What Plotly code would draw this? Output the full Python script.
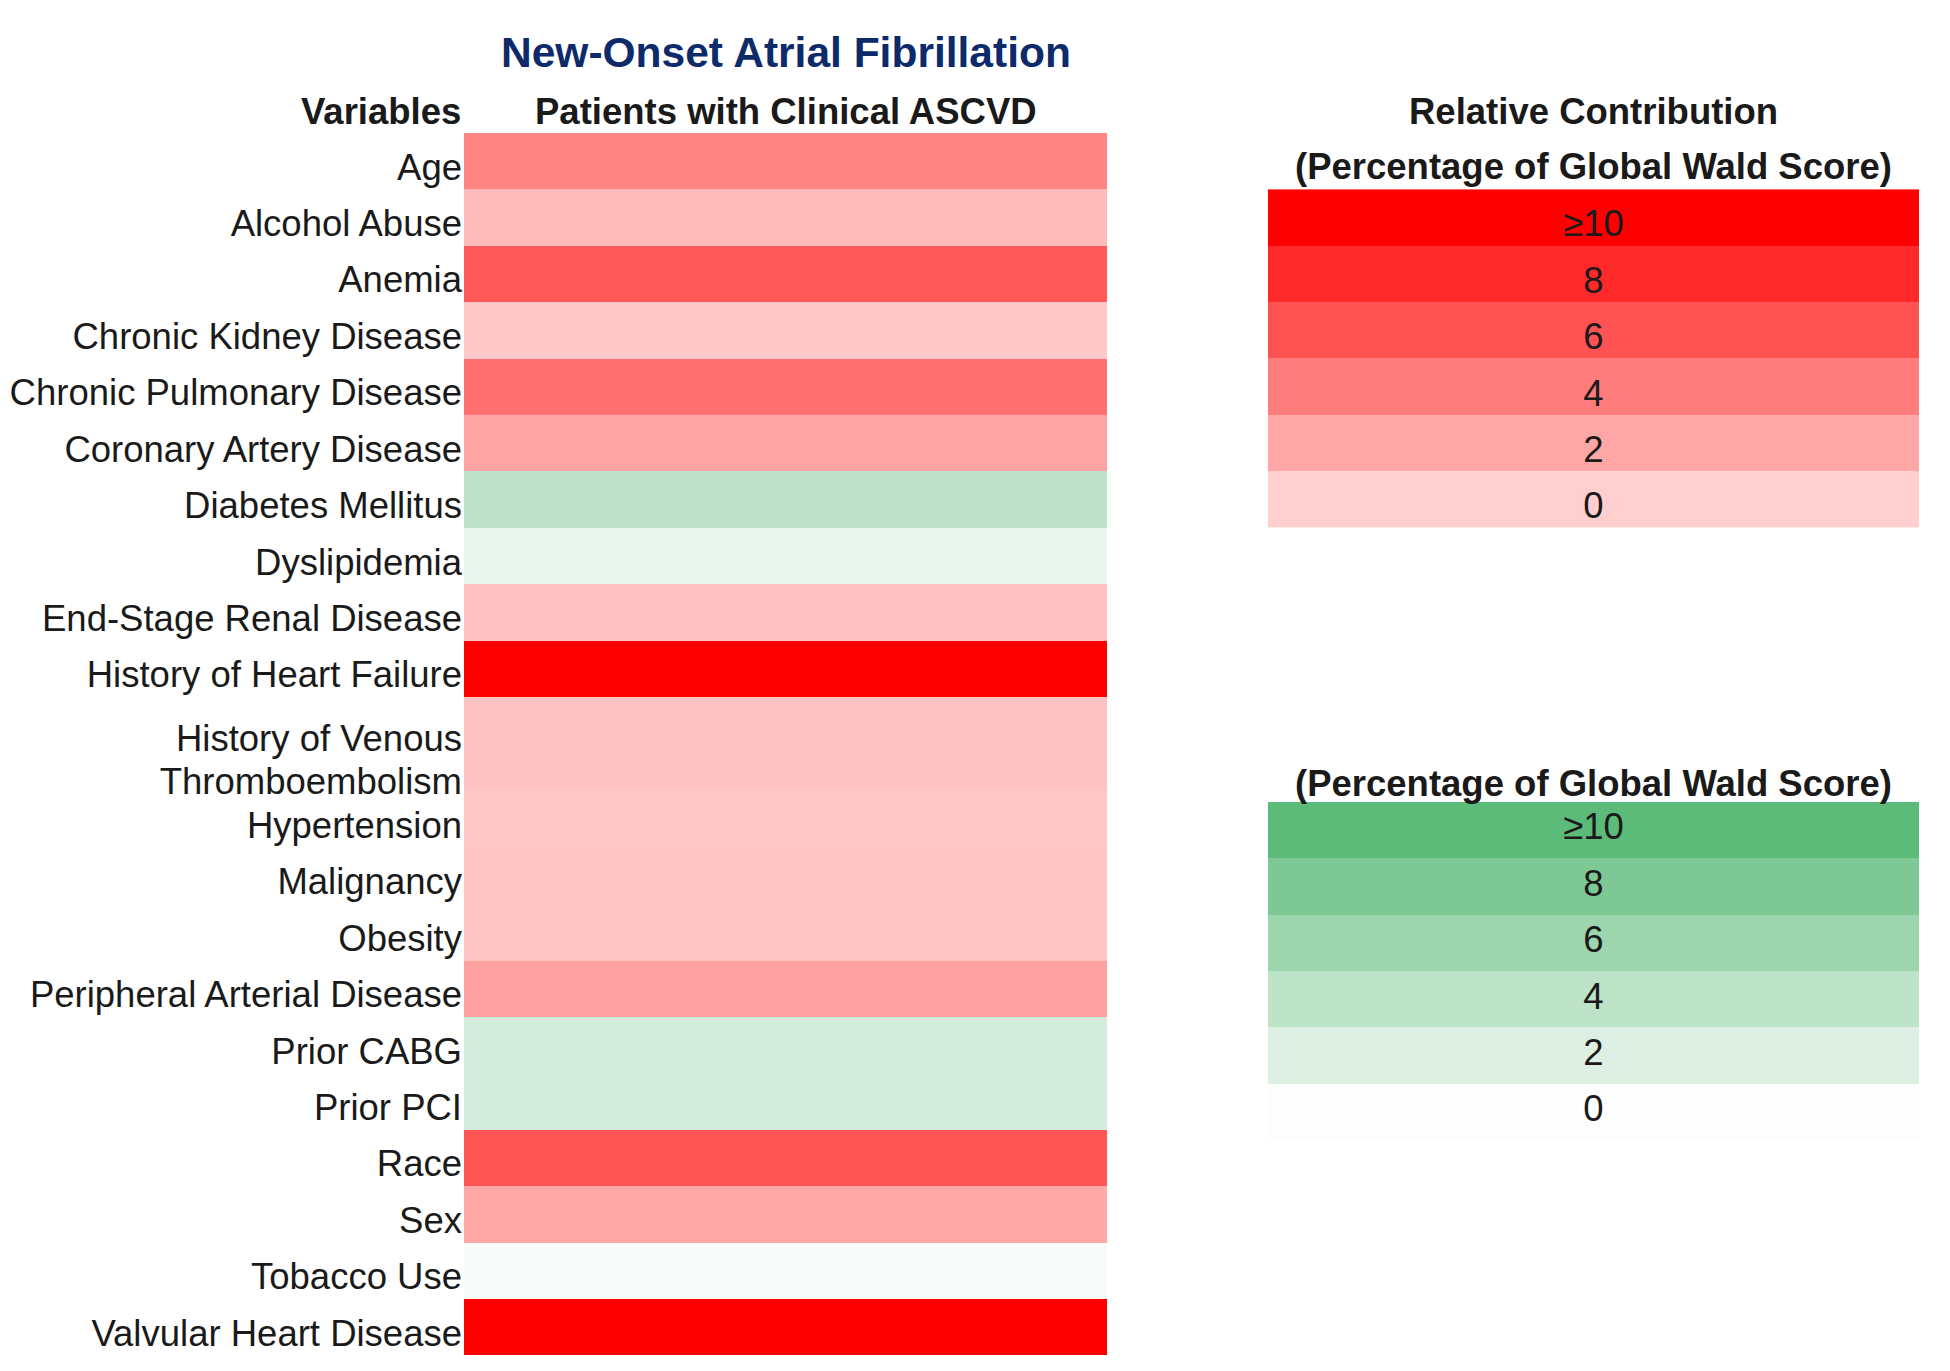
import plotly.graph_objects as go

# ---------------- data ----------------
variables = [
    "Age", "Alcohol Abuse", "Anemia", "Chronic Kidney Disease",
    "Chronic Pulmonary Disease", "Coronary Artery Disease", "Diabetes Mellitus",
    "Dyslipidemia", "End-Stage Renal Disease", "History of Heart Failure",
    "History of Venous<br>Thromboembolism", "Hypertension", "Malignancy", "Obesity",
    "Peripheral Arterial Disease", "Prior CABG", "Prior PCI", "Race", "Sex",
    "Tobacco Use", "Valvular Heart Disease",
]
# relative contribution (% of global Wald score); positive = red, negative = green
contribution = [3.6, 1.0, 5.7, 0.3, 4.6, 2.1, -3.9, -1.2, 0.7, 10.0,
                0.6, 0.3, 0.5, 0.5, 2.2, -2.6, -2.6, 5.9, 1.9, -0.4, 10.0]
# relative row heights (the two-line label row is taller)
row_heights = [1, 1, 1, 1, 1, 1, 1, 1, 1, 1, 1.67, 1, 1, 1, 1, 1, 1, 1, 1, 1, 1]

legend_levels = [10, 8, 6, 4, 2, 0]
legend_text = ["≥10", "8", "6", "4", "2", "0"]

RED0, RED10 = "#FFCFCF", "#FF0000"
GREEN0, GREEN10 = "#FDFDFD", "#5DBB7A"

# ---------------- geometry ----------------
edges = [0.0]
for h in row_heights:
    edges.append(edges[-1] + h)

LABEL_DROP = 0.1     # text sits slightly below the row centre
LINE_STEP = 0.75     # line spacing for wrapped labels (in rows)
tickvals, ticktext = [], []
for i, name in enumerate(variables):
    lines = name.split("<br>")
    centre = edges[i + 1] - 0.5 + LABEL_DROP if len(lines) == 1 else edges[i + 1] - 0.56
    first = centre - LINE_STEP * (len(lines) - 1) / 2
    for k, ln in enumerate(lines):
        tickvals.append(first + k * LINE_STEP)
        ticktext.append(ln)

OFF = 8                      # page body margin
WIN_W, WIN_H = 1950, 1371
W, H = WIN_W - OFF, WIN_H - OFF
FONT = "Liberation Sans, Arial, sans-serif"
TXT = "#1a1a1a"
FS = 36.5


def px_x(p):
    return (p - OFF) / W


top_px, row_px = 133, 56.41
y_range = [(WIN_H - top_px) / row_px, (OFF - top_px) / row_px]

fig = go.Figure()

# main heatmap
fig.add_trace(go.Heatmap(
    z=[[v] for v in contribution], x=[0, 1], y=edges,
    zmin=-10, zmax=10,
    colorscale=[[0, GREEN10], [0.4999, GREEN0], [0.5, RED0], [1, RED10]],
    showscale=False, hoverinfo="skip", xaxis="x", yaxis="y",
))


def legend_traces(top, scale, drop):
    ys = [top + k for k in range(len(legend_levels) + 1)]
    hm = go.Heatmap(
        z=[[v] for v in legend_levels], x=[0, 1], y=ys,
        zmin=0, zmax=10, colorscale=scale, showscale=False,
        hoverinfo="skip", xaxis="x2", yaxis="y",
    )
    txt = go.Scatter(
        x=[0.5] * len(legend_levels), y=[y + 0.5 + drop for y in ys[:-1]],
        mode="text", text=legend_text, textposition="middle center",
        textfont=dict(family=FONT, size=FS, color=TXT),
        hoverinfo="skip", showlegend=False, xaxis="x2", yaxis="y",
    )
    return [hm, txt]


red_top = edges[1]
green_top = edges[11] + 0.19
for t in legend_traces(red_top, [[0, RED0], [1, RED10]], 0.17):
    fig.add_trace(t)
for t in legend_traces(green_top, [[0, GREEN0], [1, GREEN10]], 0.0):
    fig.add_trace(t)

x1 = [px_x(464), px_x(1107)]
x2 = [px_x(1268), px_x(1919)]

fig.update_layout(
    width=W, height=H,
    margin=dict(l=0, r=0, t=0, b=0),
    paper_bgcolor="white", plot_bgcolor="white",
    font=dict(family=FONT, color=TXT),
    showlegend=False,
    xaxis=dict(domain=x1, range=[0, 1], visible=False),
    xaxis2=dict(domain=x2, range=[0, 1], visible=False, anchor="y"),
    yaxis=dict(range=y_range, anchor="x", tickvals=tickvals, ticktext=ticktext,
               tickfont=dict(family=FONT, size=FS, color=TXT), ticks="",
               showgrid=False, zeroline=False, showline=False, ticklabelstandoff=1),
)

mid1 = (x1[0] + x1[1]) / 2
mid2 = (x2[0] + x2[1]) / 2
header_font = dict(family=FONT, size=FS, color=TXT, weight="bold")
ann = [
    dict(text="New-Onset Atrial Fibrillation", x=mid1, y=-1.43,
         font=dict(family=FONT, size=42.5, color="#0D2B6B", weight="bold")),
    dict(text="Variables", x=x1[0] - 1.5 / W, y=-0.38, xanchor="right", font=header_font),
    dict(text="Patients with Clinical ASCVD", x=mid1, y=-0.38, font=header_font),
    dict(text="Relative Contribution", x=mid2, y=-0.38, font=header_font),
    dict(text="(Percentage of Global Wald Score)", x=mid2, y=red_top - 0.4, font=header_font),
    dict(text="(Percentage of Global Wald Score)", x=mid2, y=green_top - 0.33, font=header_font),
]
for a in ann:
    a.setdefault("xanchor", "center")
    fig.add_annotation(xref="paper", yref="y", yanchor="middle", showarrow=False, **a)

fig.write_html("out.html")
